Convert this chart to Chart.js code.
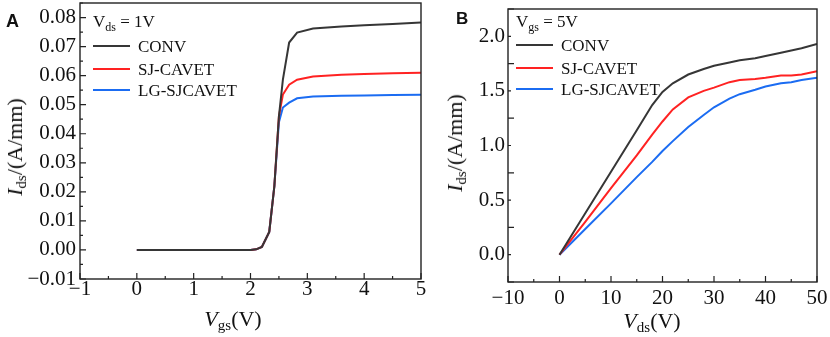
<!DOCTYPE html>
<html>
<head>
<meta charset="utf-8">
<script src="https://cdn.jsdelivr.net/npm/chart.js@4.4.1/dist/chart.umd.min.js"></script>
<style>
  body { margin: 0; background: #fff; width: 830px; height: 337px; position: relative; overflow: hidden;
         font-family: "Liberation Serif", "Times New Roman", serif; color: #111; }
  canvas { position: absolute; top: 0; }
  #chartA { left: 0; }
  #chartB { left: 425px; }
  .lbl { position: absolute; white-space: nowrap; line-height: 1; }
  .panel { font-family: "Liberation Sans", Arial, sans-serif; font-weight: bold; }
  .title { font-size: 22px; transform: translate(-50%, -50%); }
  .title.rot { transform: translate(-50%, -50%) rotate(-90deg); }
  .title sub { font-size: 15px; vertical-align: -4px; line-height: 0; }
</style>
</head>
<body>
<canvas id="chartA" width="440" height="337"></canvas>
<canvas id="chartB" width="405" height="337"></canvas>

<div class="lbl panel" style="left:6px; top:12px; font-size:18px;">A</div>
<div class="lbl panel" style="left:456px; top:10px; font-size:17px;">B</div>
<div class="lbl title rot" style="left:15px; top:147px;"><i>I</i><sub>ds</sub>/(A/mm)</div>
<div class="lbl title" style="left:233px; top:319px;"><i>V</i><sub>gs</sub>(V)</div>
<div class="lbl title rot" style="left:455px; top:143px;"><i>I</i><sub>ds</sub>/(A/mm)</div>
<div class="lbl title" style="left:652px; top:321px;"><i>V</i><sub>ds</sub>(V)</div>

<script>
// ---- panel A: transfer curves, Vds = 1V ----
var vgs   = [0, 0.5, 1.0, 1.5, 2.0, 2.1, 2.2, 2.33, 2.42, 2.5, 2.57, 2.68, 2.82, 3.1, 3.6, 4.0, 4.5, 5.0];
var convA = [0, 0, 0, 0, 0, 0.0002, 0.001, 0.0062, 0.022, 0.046, 0.0586, 0.0714, 0.0748, 0.0762, 0.0769, 0.0773, 0.0778, 0.0783];
var sjA   = [0, 0, 0, 0, 0, 0.0002, 0.001, 0.0062, 0.022, 0.046, 0.0535, 0.0569, 0.0586, 0.0597, 0.0603, 0.0606, 0.0608, 0.0610];
var lgA   = [0, 0, 0, 0, 0, 0.0002, 0.001, 0.0062, 0.022, 0.044, 0.0490, 0.0507, 0.0522, 0.0528, 0.0531, 0.0532, 0.0533, 0.0534];

// ---- panel B: output curves, Vgs = 5V ----
var vds   = [0, 5, 10, 15, 18, 20, 22, 25, 28, 30, 33, 35, 38, 40, 43, 45, 47, 50];
var convB = [0, 0.38, 0.76, 1.14, 1.37, 1.49, 1.57, 1.65, 1.70, 1.73, 1.76, 1.78, 1.80, 1.82, 1.85, 1.87, 1.89, 1.93];
var sjB   = [0, 0.30, 0.61, 0.91, 1.10, 1.22, 1.33, 1.44, 1.50, 1.53, 1.58, 1.60, 1.61, 1.62, 1.64, 1.64, 1.65, 1.68];
var lgB   = [0, 0.235, 0.47, 0.71, 0.85, 0.95, 1.04, 1.17, 1.28, 1.35, 1.43, 1.47, 1.51, 1.54, 1.57, 1.58, 1.60, 1.62];

var seriesNames  = ['CONV', 'SJ-CAVET', 'LG-SJCAVET'];
var seriesColors = ['#363636', '#ff2222', '#1b6cf2'];

var xTicksA = [-1, 0, 1, 2, 3, 4, 5];
var yTicksA = [-0.01, 0, 0.01, 0.02, 0.03, 0.04, 0.05, 0.06, 0.07, 0.08];
var xTicksB = [-10, 0, 10, 20, 30, 40, 50];
var yTicksB = [0, 0.5, 1.0, 1.5, 2.0];

function minus(s) { return s.replace('-', '\u2212'); }

function makeSets(xs, ys) {
    return ys.map(function (arr, i) {
        return {
            label: seriesNames[i],
            data: xs.map(function (x, j) { return { x: x, y: arr[j] }; }),
            borderColor: seriesColors[i],
            borderWidth: 2,
            pointRadius: 0,
            tension: 0,
            fill: false
        };
    });
}

// box, inward ticks and inset legend
var framePlugin = {
    id: 'frame',
    afterDraw: function (chart, args, o) {
        var ctx = chart.ctx, a = chart.chartArea;
        var xs = chart.scales.x, ys = chart.scales.y;
        ctx.save();
        ctx.strokeStyle = '#222';
        ctx.lineWidth = 1.4;
        ctx.strokeRect(a.left, a.top, a.right - a.left, a.bottom - a.top);

        ctx.lineWidth = 1.2;
        ctx.beginPath();
        var n, v, p, i;
        n = Math.round((xs.max - xs.min) / o.xMinor);
        for (i = 0; i <= n; i++) {
            v = xs.min + i * o.xMinor;
            p = xs.getPixelForValue(v);
            var len = (i % 2 === 0) ? 6 : 3;
            ctx.moveTo(p, a.bottom); ctx.lineTo(p, a.bottom - len);
        }
        n = Math.floor((ys.max - ys.min) / o.yMinor + 1e-6);
        for (i = 0; i <= n; i++) {
            v = ys.min + i * o.yMinor;
            p = ys.getPixelForValue(v);
            var ylen = (i % 2 === 0) ? 6 : 3;
            ctx.moveTo(a.left, p); ctx.lineTo(a.left + ylen, p);
        }
        ctx.stroke();

        // legend header
        var lx = a.left + o.legX;
        ctx.fillStyle = '#111';
        ctx.textBaseline = 'alphabetic';
        ctx.textAlign = 'left';
        ctx.font = '17px "Liberation Serif"';
        ctx.fillText('V', lx, o.headY);
        var w = ctx.measureText('V').width;
        ctx.font = '12px "Liberation Serif"';
        ctx.fillText(o.sub, lx + w, o.headY + 4);
        var w2 = ctx.measureText(o.sub).width;
        ctx.font = '17px "Liberation Serif"';
        ctx.fillText(' = ' + o.val, lx + w + w2, o.headY);

        // legend rows
        chart.data.datasets.forEach(function (ds, k) {
            var y = o.rowY[k];
            ctx.strokeStyle = ds.borderColor;
            ctx.lineWidth = 2;
            ctx.beginPath();
            ctx.moveTo(lx, y); ctx.lineTo(lx + 37, y);
            ctx.stroke();
            ctx.fillStyle = '#111';
            ctx.fillText(ds.label, lx + 45, y + 6);
        });
        ctx.restore();
    }
};

function makeChart(id, xs, ys, cfg) {
    var tickFont = { family: '"Liberation Serif"', size: 21 };
    return new Chart(document.getElementById(id).getContext('2d'), {
        type: 'line',
        data: { datasets: makeSets(xs, ys) },
        options: {
            responsive: false,
            animation: false,
            layout: { padding: cfg.padding },
            plugins: { legend: { display: false }, tooltip: { enabled: false }, frame: cfg.frame },
            scales: {
                x: {
                    type: 'linear', min: cfg.xMin, max: cfg.xMax,
                    grid: { display: false, drawTicks: false },
                    border: { display: false },
                    afterBuildTicks: function (s) { s.ticks = cfg.xTicks.map(function (v) { return { value: v }; }); },
                    afterFit: function (s) { s.height = cfg.xH; s.paddingLeft = 0; s.paddingRight = 0; },
                    ticks: {
                        font: tickFont, color: '#111', padding: cfg.xPad, maxRotation: 0, autoSkip: false,
                        callback: function (v) { return minus(String(v)); }
                    }
                },
                y: {
                    type: 'linear', min: cfg.yMin, max: cfg.yMax,
                    grid: { display: false, drawTicks: false },
                    border: { display: false },
                    afterBuildTicks: function (s) { s.ticks = cfg.yTicks.map(function (v) { return { value: v }; }); },
                    afterFit: function (s) { s.width = cfg.yW; s.paddingTop = 0; s.paddingBottom = 0; },
                    ticks: {
                        font: tickFont, color: '#111', padding: cfg.yPad, autoSkip: false,
                        callback: function (v) { return minus(v.toFixed(cfg.yDec)); }
                    }
                }
            }
        },
        plugins: [framePlugin]
    });
}

makeChart('chartA', vgs, [convA, sjA, lgA], {
    padding: { left: 0, top: 3, right: 19, bottom: 0 },
    xMin: -1, xMax: 5, yMin: -0.01, yMax: 0.085,
    xTicks: xTicksA, yTicks: yTicksA, yDec: 2,
    xH: 58, yW: 80, xPad: -2, yPad: 4,
    frame: { xMinor: 0.5, yMinor: 0.005, legX: 13, headY: 27, sub: 'ds', val: '1V', rowY: [46, 69, 90] }
});

makeChart('chartB', vds, [convB, sjB, lgB], {
    padding: { left: 0, top: 9, right: 13, bottom: 0 },
    xMin: -10, xMax: 50, yMin: -0.25, yMax: 2.25,
    xTicks: xTicksB, yTicks: yTicksB, yDec: 1,
    xH: 55, yW: 83, xPad: 4, yPad: 3,
    frame: { xMinor: 5, yMinor: 0.25, legX: 8, headY: 27, sub: 'gs', val: '5V', rowY: [45, 68, 89] }
});
</script>
</body>
</html>
